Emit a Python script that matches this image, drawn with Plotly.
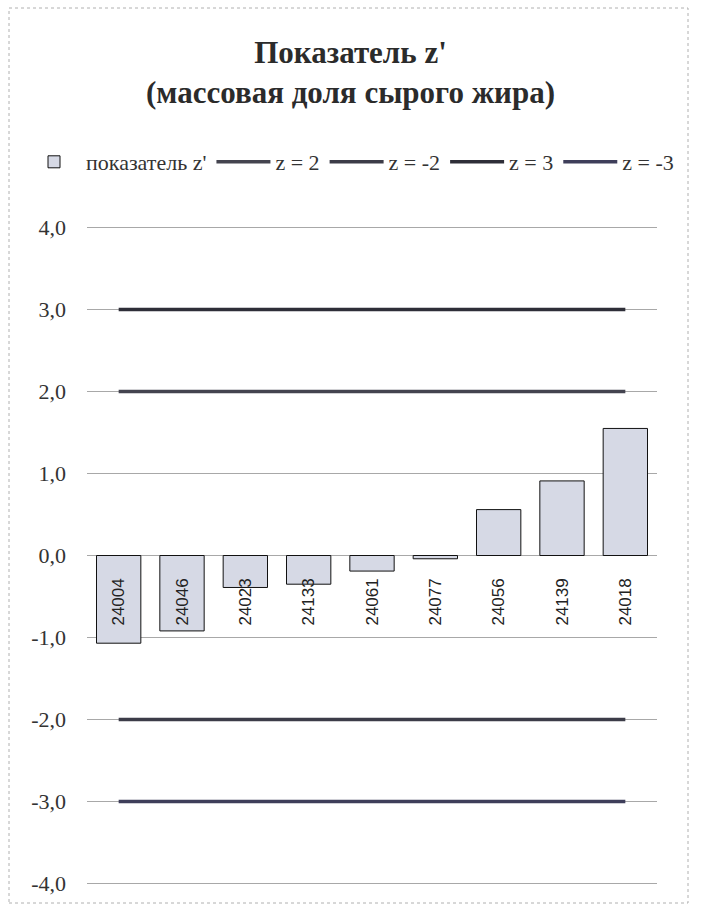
import plotly.graph_objects as go

# Sample codes and z' scores (mass fraction of crude fat)
samples = ["24004", "24046", "24023", "24133", "24061", "24077", "24056", "24139", "24018"]
z_scores = [-1.07, -0.92, -0.39, -0.35, -0.19, -0.04, 0.56, 0.91, 1.55]

# Control limits
limit_names = ["z = 2", "z = -2", "z = 3", "z = -3"]
limit_values = [2, -2, 3, -3]
limit_colors = ["#44444f", "#3c3c48", "#2e2e38", "#3e3e5a"]

y_ticks = [4, 3, 2, 1, 0, -1, -2, -3, -4]
y_tick_text = ["4,0", "3,0", "2,0", "1,0", "0,0", "-1,0", "-2,0", "-3,0", "-4,0"]

serif = "Liberation Serif, DejaVu Serif, serif"

fig = go.Figure()

fig.add_trace(go.Bar(
    x=samples,
    y=z_scores,
    name="показатель z'",
    width=0.7,
    marker=dict(color="#d6d9e5", line=dict(color="#111111", width=1)),
))

for name, val, col in zip(limit_names, limit_values, limit_colors):
    fig.add_trace(go.Scatter(
        x=samples,
        y=[val] * len(samples),
        mode="lines",
        name=name,
        line=dict(color=col, width=3.5),
    ))

W, H = 701, 911
L, R, T, B = 87, 44, 226, 26
pw, ph = W - L - R, H - T - B


def px_x(x):
    return (x - L) / pw


def px_y(y):
    return (H - B - y) / ph


fig.update_layout(
    width=W,
    height=H,
    margin=dict(l=L, r=R, t=T, b=B),
    paper_bgcolor="white",
    plot_bgcolor="white",
    title=dict(
        text="<b>Показатель z'</b><br><b>(массовая доля сырого жира)</b>",
        x=0.5,
        xanchor="center",
        xref="container",
        y=1 - 63 / H,
        yanchor="middle",
        yref="container",
        font=dict(family=serif, size=31, color="#2b2b2b"),
    ),
    showlegend=True,
    legend=dict(
        orientation="h",
        x=px_x(22),
        xanchor="left",
        y=px_y(162),
        yanchor="middle",
        font=dict(family=serif, size=22, color="#333333"),
        itemwidth=54,
        tracegroupgap=0,
        bgcolor="rgba(0,0,0,0)",
    ),
    bargap=0.3,
    xaxis=dict(
        anchor="free",
        position=0.5,
        showgrid=False,
        showline=False,
        zeroline=False,
        tickangle=-90,
        ticks="outside",
        ticklen=15,
        tickcolor="rgba(0,0,0,0)",
        tickfont=dict(family="Liberation Sans", size=17, color="#222222"),
    ),
    yaxis=dict(
        range=[-4.02, 4.02],
        tickvals=y_ticks,
        ticktext=y_tick_text,
        showgrid=True,
        gridcolor="#a8a8a8",
        gridwidth=1,
        zeroline=True,
        zerolinecolor="#a8a8a8",
        zerolinewidth=1,
        showline=False,
        ticks="",
        ticklabelstandoff=20,
        tickfont=dict(family=serif, size=22, color="#333333"),
    ),
    shapes=[
        dict(
            type="rect",
            xref="paper",
            yref="paper",
            x0=px_x(9),
            x1=px_x(688),
            y0=px_y(903),
            y1=px_y(8),
            line=dict(color="#b0b0b0", width=1, dash="dot"),
            fillcolor="rgba(0,0,0,0)",
            layer="below",
        )
    ],
)

fig.write_html("out.html")
